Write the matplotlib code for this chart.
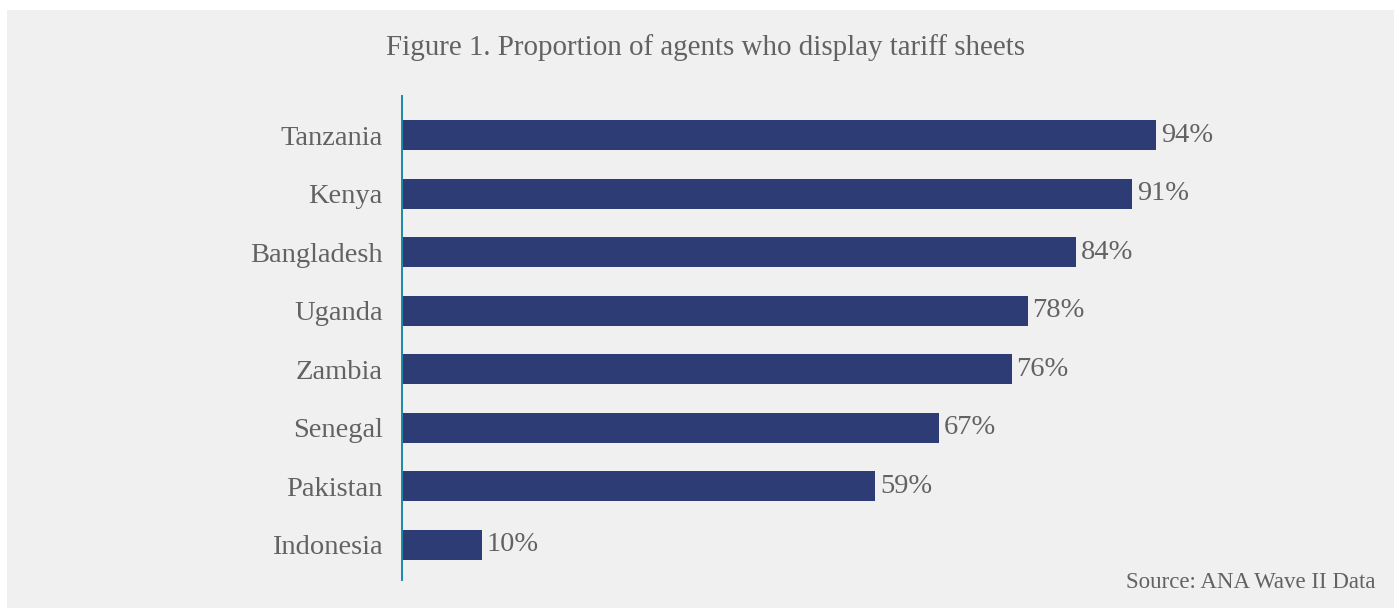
import matplotlib
matplotlib.use('Agg')
import matplotlib.pyplot as plt
from matplotlib.patches import Rectangle

countries = ['Indonesia', 'Pakistan', 'Senegal', 'Zambia', 'Uganda', 'Bangladesh', 'Kenya', 'Tanzania']
shares = [10, 59, 67, 76, 78, 84, 91, 94]

plt.rcParams['font.family'] = ['Liberation Serif', 'DejaVu Serif']
txt = '#626262'
bar_col = '#2d3c75'

fig = plt.figure(figsize=(13.94, 6.08), dpi=100)
fig.patch.set_facecolor('white')
# grey panel behind everything, leaving a thin white strip top and left
fig.patches.append(Rectangle((7/1394, 0), 1 - 7/1394, 1 - 10/608,
                             transform=fig.transFigure, facecolor='#f0f0f0',
                             edgecolor='none', zorder=-10))

ax = fig.add_axes([402/1394, 28/608, 802/1394, 484/608])
ax.set_zorder(1)
ax.set_facecolor('none')
ypos = list(range(len(countries)))
ax.barh(ypos, shares, height=0.51, color=bar_col, zorder=2)
for y, v in zip(ypos, shares):
    ax.text(v + 0.6, y, f'{v}%', va='center', ha='left', fontsize=20.5, color=txt)

ax.set_xlim(0, 100)
ax.set_ylim(-0.6, 7.67)
ax.set_yticks(ypos)
ax.set_yticklabels(countries, fontsize=20.5, color=txt)
ax.tick_params(axis='y', length=0, pad=14)
ax.set_xticks([])
for s in ['top', 'right', 'bottom']:
    ax.spines[s].set_visible(False)
ax.spines['left'].set_color('#1b8aa5')
ax.spines['left'].set_linewidth(1.4)

fig.text(706/1394, 1 - 48/608, 'Figure 1. Proportion of agents who display tariff sheets',
         ha='center', va='center', fontsize=20.9, color=txt, zorder=5)
fig.text(1376/1394, 1 - 582/608, 'Source: ANA Wave II Data',
         ha='right', va='center', fontsize=16.5, color=txt, zorder=5)

fig.savefig('out.png', dpi=100, facecolor=fig.get_facecolor())
